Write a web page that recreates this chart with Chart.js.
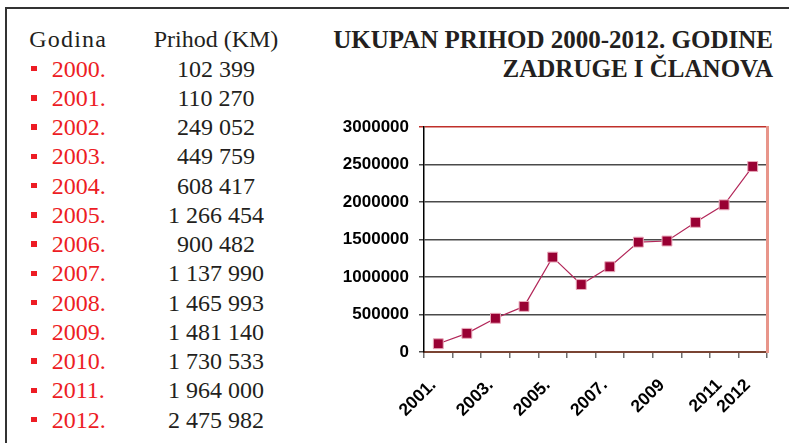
<!DOCTYPE html>
<html>
<head>
<meta charset="utf-8">
<script src="https://cdn.jsdelivr.net/npm/chart.js@4.4.1/dist/chart.umd.min.js"></script>
<style>
  body { margin: 0; background: #fff; width: 789px; height: 443px; overflow: hidden; position: relative; }
  #frameTop { position: absolute; left: 5px; top: 7px; width: 784px; height: 2px; background: #333; }
  #frameLeft { position: absolute; left: 5px; top: 7px; width: 2px; height: 436px; background: #333; }
  #table { position: absolute; left: 0; top: 25.3px; width: 320px; font-family: "Liberation Serif", serif; font-size: 24px; line-height: 29.25px; }
  .row { position: relative; height: 29.25px; }
  .row span { position: absolute; top: 0; white-space: nowrap; }
  .bullet { left: 31px; top: 11.4px !important; width: 5.5px; height: 5.5px; background: #ed1c24; }
  .year { left: 51.7px; color: #ed1c24; }
  .val { left: 136px; width: 160px; text-align: center; color: #231f20; }
  .head { left: 29.3px; color: #231f20; letter-spacing: 1.2px; }
  #title { position: absolute; right: 16px; top: 25px; text-align: right; font-family: "Liberation Serif", serif; font-weight: bold; font-size: 25px; line-height: 29px; color: #231f20; white-space: nowrap; }
  #wrap { position: absolute; left: 330px; top: 107px; width: 459px; height: 336px; }
  canvas { display: block; }
</style>
</head>
<body>
<div id="frameTop"></div>
<div id="frameLeft"></div>
<div id="table"></div>
<div id="title">UKUPAN PRIHOD 2000-2012. GODINE<br>ZADRUGE I ČLANOVA</div>
<div id="wrap"><canvas id="myChart" width="459" height="336"></canvas></div>
<script>
// table on the left
const tableYears = ["2000.", "2001.", "2002.", "2003.", "2004.", "2005.", "2006.",
	"2007.", "2008.", "2009.", "2010.", "2011.", "2012."];
const tableIncome = [102399, 110270, 249052, 449759, 608417, 1266454, 900482,
	1137990, 1465993, 1481140, 1730533, 1964000, 2475982];

// chart (starts at 2001)
const chartLabels = ["2001.", "2002.", "2003.", "2004.", "2005.", "2006.", "2007.",
	"2008.", "2009", "2010", "2011", "2012"];
const chartValues = [110270, 249052, 449759, 608417, 1266454, 900482, 1137990,
	1465993, 1481140, 1730533, 1964000, 2475982];
const shownTicks = [0, 2, 4, 6, 8, 10, 11];
const yTicks = [0, 500000, 1000000, 1500000, 2000000, 2500000, 3000000];

function spaced(n) {
	return String(n).replace(/\B(?=(\d{3})+(?!\d))/g, " ");
}

window.addEventListener("load", setup);

function setup() {
	const table = document.getElementById("table");
	let html = '<div class="row"><span class="head">Godina</span><span class="val">Prihod (KM)</span></div>';
	tableYears.forEach((yr, i) => {
		html += '<div class="row"><span class="bullet"></span><span class="year">' + yr +
			'</span><span class="val">' + spaced(tableIncome[i]) + "</span></div>";
	});
	table.innerHTML = html;

	const ctx = document.getElementById("myChart").getContext("2d");
	new Chart(ctx, {
		type: "line",
		data: {
			labels: chartLabels,
			datasets: [
				{
					data: chartValues,
					borderColor: "#b3285a",
					borderWidth: 1.2,
					pointStyle: "rect",
					pointRadius: 7,
					pointBackgroundColor: "#990033",
					pointBorderColor: "#e9a9bb",
					pointBorderWidth: 1,
					fill: false,
					tension: 0,
				},
			],
		},
		options: {
			responsive: false,
			animation: false,
			layout: { padding: { top: 6, right: 22, left: 0, bottom: 0 } },
			plugins: { legend: { display: false }, tooltip: { enabled: false } },
			scales: {
				x: {
					offset: true,
					afterFit: (s) => { s.height = 91; },
					grid: {
						offset: true,
						drawOnChartArea: false,
						drawTicks: true,
						tickLength: 6,
						color: "#6e6e6e",
						lineWidth: 1.5,
					},
					border: { color: "#7a4433", width: 2 },
					ticks: {
						autoSkip: false,
						minRotation: 45,
						maxRotation: 45,
						padding: 17,
						labelOffset: -5,
						color: "#000",
						font: { family: "Liberation Sans", size: 17.5, weight: "bold" },
						callback: function (v, i) {
							return shownTicks.includes(i) ? chartLabels[i] : "";
						},
					},
				},
				y: {
					min: 0,
					max: 3000000,
					afterFit: (s) => { s.width = 94; },
					afterBuildTicks: (s) => { s.ticks = yTicks.map((v) => ({ value: v })); },
					grid: {
						color: (c) => (c.tick && c.tick.value === 3000000 ? "#c0302a" : "#4a4a4a"),
						lineWidth: 1.5,
						tickLength: 5,
					},
					border: { color: "#000", width: 1.5 },
					ticks: {
						padding: 10,
						color: "#000",
						font: { family: "Liberation Sans", size: 17, weight: "bold" },
						callback: (v) => String(v),
					},
				},
				y2: {
					position: "right",
					min: 0,
					max: 3000000,
					afterFit: (s) => { s.width = 0; },
					grid: { drawOnChartArea: false, drawTicks: false },
					border: { color: "#e8958a", width: 3 },
					ticks: { display: false },
				},
			},
		},
	});
}
</script>
</body>
</html>
